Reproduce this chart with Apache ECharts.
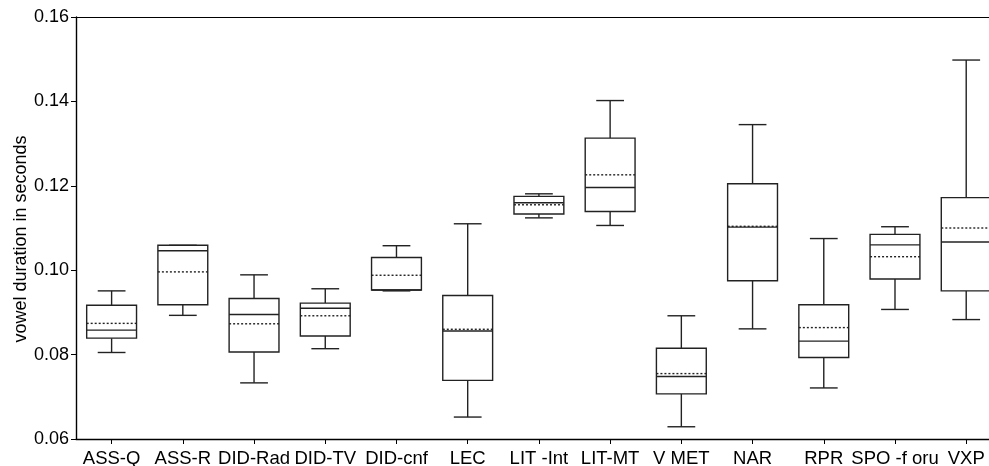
<!DOCTYPE html>
<html>
<head>
<meta charset="utf-8">
<script src="https://cdn.jsdelivr.net/npm/echarts@6/dist/echarts.min.js"></script>
<style>
  html, body { margin: 0; padding: 0; background: #fff; }
  #chart { width: 989px; height: 466px; }
</style>
</head>
<body>
<div id="chart"></div>
<script>
// Vowel duration (s) per speaking style: box = quartiles, solid line = median,
// dotted line = mean, whiskers = range.
const categories = ['ASS-Q', 'ASS-R', 'DID-Rad', 'DID-TV', 'DID-cnf', 'LEC', 'LIT -Int',
                    'LIT-MT', 'V MET', 'NAR', 'RPR', 'SPO -f oru', 'VXP'];
const whiskerLow  = [0.0805, 0.0893, 0.0733, 0.0814, 0.0951, 0.0652, 0.1124, 0.1106, 0.0629, 0.0861, 0.0721, 0.0907, 0.0883];
const quartile1   = [0.0839, 0.0918, 0.0806, 0.0844, 0.0953, 0.0739, 0.1133, 0.1139, 0.0707, 0.0975, 0.0793, 0.0979, 0.0951];
const medians     = [0.0858, 0.1046, 0.0895, 0.0910, 0.0953, 0.0856, 0.1160, 0.1196, 0.0748, 0.1102, 0.0832, 0.1060, 0.1067];
const quartile3   = [0.0917, 0.1059, 0.0933, 0.0922, 0.1030, 0.0940, 0.1175, 0.1313, 0.0815, 0.1205, 0.0918, 0.1085, 0.1172];
const whiskerHigh = [0.0951, 0.1059, 0.0989, 0.0956, 0.1058, 0.1110, 0.1181, 0.1402, 0.0892, 0.1345, 0.1075, 0.1103, 0.1498];
const means       = [0.0874, 0.0996, 0.0873, 0.0892, 0.0988, 0.0860, 0.1155, 0.1226, 0.0755, 0.1104, 0.0864, 0.1032, 0.1100];
const yTicks = { min: 0.06, max: 0.16, step: 0.02 };

const rows = categories.map((c, i) =>
  [i, whiskerLow[i], quartile1[i], medians[i], quartile3[i], whiskerHigh[i], means[i]]);
const categoryIndex = categories.map((c, i) => i);

const INK = '#222';
const FONT = 'Liberation Sans, Arial, sans-serif';

// Each category owns one unit of the x scale; the frame runs on past the last group.
const X_MIN = -0.5;
const X_MAX = 12.32;

function renderBox(params, api) {
  const i = api.value(0);
  const band = api.size([1, 0])[0];
  const boxW = band * 0.70;
  const capW = band * 0.39;
  const cx = api.coord([i, 0])[0];
  const y = k => api.coord([i, api.value(k)])[1];
  const yLo = y(1), yQ1 = y(2), yMed = y(3), yQ3 = y(4), yHi = y(5), yMean = y(6);
  const line = (x1, y1, x2, y2, dash) => ({
    type: 'line',
    shape: { x1, y1, x2, y2 },
    style: { stroke: INK, lineWidth: 1.4, lineDash: dash || null }
  });
  return {
    type: 'group',
    children: [
      line(cx, yHi, cx, yQ3),
      line(cx, yQ1, cx, yLo),
      line(cx - capW / 2, yHi, cx + capW / 2, yHi),
      line(cx - capW / 2, yLo, cx + capW / 2, yLo),
      {
        type: 'rect',
        shape: { x: cx - boxW / 2, y: yQ3, width: boxW, height: yQ1 - yQ3 },
        style: { fill: '#fff', stroke: INK, lineWidth: 1.4 }
      },
      line(cx - boxW / 2, yMed, cx + boxW / 2, yMed),
      line(cx - boxW / 2, yMean, cx + boxW / 2, yMean, [2, 2])
    ]
  };
}

const chart = echarts.init(document.getElementById('chart'), null, { renderer: 'canvas' });
chart.setOption({
  animation: false,
  backgroundColor: '#fff',
  grid: { left: 76, top: 17, right: 0, bottom: 27, show: false, outerBoundsMode: 'none' },
  xAxis: [{
    type: 'value',
    min: X_MIN,
    max: X_MAX,
    axisLine: { show: true, onZero: false, lineStyle: { color: '#000', width: 1.4 } },
    axisTick: { show: true, length: 5, customValues: categoryIndex, lineStyle: { color: '#000' } },
    axisLabel: {
      color: '#000', fontFamily: FONT, fontSize: 18.5, margin: 10,
      customValues: categoryIndex,
      formatter: v => categories[Math.round(v)] || ''
    },
    splitLine: { show: false }
  }, {
    // top edge of the frame
    type: 'value',
    position: 'top',
    min: X_MIN,
    max: X_MAX,
    axisLine: { show: true, onZero: false, lineStyle: { color: '#000', width: 1.2 } },
    axisTick: { show: false },
    axisLabel: { show: false },
    splitLine: { show: false }
  }],
  yAxis: {
    type: 'value',
    min: yTicks.min,
    max: yTicks.max,
    interval: yTicks.step,
    name: 'vowel duration in seconds',
    nameLocation: 'middle',
    nameGap: 46,
    nameMoveOverlap: false,
    nameTextStyle: { color: '#000', fontFamily: FONT, fontSize: 18, padding: [0, 22, 0, 0] },
    axisLine: { show: true, onZero: false, lineStyle: { color: '#000', width: 1.4 } },
    axisTick: { show: true, length: 5, lineStyle: { color: '#000' } },
    axisLabel: { color: '#000', fontFamily: FONT, fontSize: 18, margin: 7,
                 formatter: v => v.toFixed(2) },
    splitLine: { show: false }
  },
  series: [{
    type: 'custom',
    xAxisIndex: 0,
    renderItem: renderBox,
    encode: { x: 0, y: [1, 2, 3, 4, 5, 6] },
    data: rows,
    clip: false
  }]
});
</script>
</body>
</html>
